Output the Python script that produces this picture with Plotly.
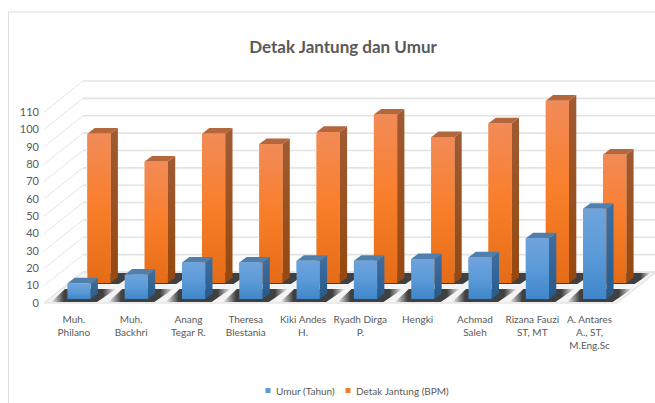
import plotly.graph_objects as go

categories = ["Muh.<br>Philano", "Muh.<br>Backhri", "Anang<br>Tegar R.", "Theresa<br>Blestania",
              "Kiki Andes<br>H.", "Ryadh Dirga<br>P.", "Hengki", "Achmad<br>Saleh",
              "Rizana Fauzi<br>ST, MT", "A. Antares<br>A., ST,<br>M.Eng.Sc"]
umur = [9, 14, 21, 21, 22, 22, 23, 24, 35, 52]
detak = [86, 70, 86, 80, 87, 97, 84, 92, 105, 74]
y_ticks = list(range(0, 111, 10))

W, H = 655, 403
ML, MB = 40, 93
PX = 57.3        # px per category
PY = 1.736       # px per value unit
X0 = 79.0        # px of first category centre
Y0 = 303.0       # px of value 0 on the front plane

xr = [(ML - X0) / PX, (W - X0) / PX]
yr = [(Y0 - (H - MB)) / PY, Y0 / PY]
dxu = lambda px: px / PX
dyu = lambda px: px / PY
xpx = lambda px: (px - ML) / (W - ML)
ypx = lambda py: ((H - MB) - py) / (H - MB)

fig = go.Figure()

GRID = "#e3e3e3"
FLOOR = "#f4f4f4"
wall_dx, wall_dy = dxu(39), dyu(31)
front_l = dxu(44 - X0)
back_r = xr[1] + 0.1
front_r = dxu(617 - X0)
fig.add_trace(go.Scatter(
    x=[front_l, front_l + wall_dx, front_r + wall_dx, front_r, front_l],
    y=[0, wall_dy, wall_dy, 0, 0], mode="lines", fill="toself",
    fillcolor=FLOOR, line=dict(color="#e6e6e6", width=1.5),
    showlegend=False, hoverinfo="skip"))
for v in y_ticks:
    fig.add_trace(go.Scatter(
        x=[front_l, front_l + wall_dx], y=[v, v + wall_dy], mode="lines",
        line=dict(color="#e6e6e6", width=1), showlegend=False, hoverinfo="skip"))
    fig.add_trace(go.Scatter(
        x=[front_l + wall_dx, back_r], y=[v + wall_dy, v + wall_dy], mode="lines",
        line=dict(color=GRID, width=1.6), showlegend=False, hoverinfo="skip"))

width = dxu(23.2)
side_dx, side_dy = dxu(7.3), dyu(5.6)

series = [
    dict(name="Umur (Tahun)", vals=umur, off=0.0, base=dyu(303 - 299), swatch="#5b9bd5",
         front=["#3f86c9", "#5b9bd8", "#6fa3dc"], side=["#275a8c", "#3f6f9f"], top="#4f7fad",
         shadow=((-28, 302), (18, 302), (37, 289), (-14, 289))),
    dict(name="Detak Jantung (BPM)", vals=detak, off=dxu(20), base=dyu(303 - 283), swatch="#ed7d31",
         front=["#e56c17", "#f97e2a", "#f28b58"], side=["#95480f", "#a05b33"], top="#b5673c",
         shadow=((-14, 284), (20, 284), (36, 273), (2, 273))),
]


def face(xs, ys, **kw):
    fig.add_trace(go.Scatter(x=xs, y=ys, mode="lines", fill="toself",
                             line=dict(width=0), showlegend=False, hoverinfo="skip", **kw))


def vert(colors):
    n = len(colors) - 1
    return dict(type="vertical", colorscale=[[i / n, c] for i, c in enumerate(colors)])


SHADOW = dict(type="horizontal", colorscale=[[0, FLOOR], [0.2, "#404040"], [0.8, "#404040"], [1, FLOOR]])

for s in reversed(series):
    fig.add_trace(go.Bar(x=[i + s["off"] for i in range(len(s["vals"]))], y=s["vals"], base=s["base"],
                         width=width, marker=dict(color=s["swatch"], line=dict(width=0)),
                         name=s["name"], showlegend=False, hoverinfo="skip"))

for s in reversed(series):
    for i, v in enumerate(s["vals"]):
        c = i + s["off"]
        l, r = c - width / 2, c + width / 2
        b, t = s["base"], s["base"] + v
        sh = s["shadow"]
        face([c + dxu(p[0]) for p in sh] + [c + dxu(sh[0][0])],
             [dyu(Y0 - p[1]) for p in sh] + [dyu(Y0 - sh[0][1])], fillgradient=SHADOW)
        face([r, r + side_dx, r + side_dx, r, r], [b, b + side_dy, t + side_dy, t, b], fillgradient=vert(s["side"]))
        face([l, r, r + side_dx, l + side_dx, l], [t, t, t + side_dy, t + side_dy, t], fillcolor=s["top"])
        face([l, r, r, l, l], [b, b, t, t, b], fillgradient=vert(s["front"]))

TXT = "#595959"
legend_pos = [(268, 274), (348, 354)]
annotations = []
shapes = [
    dict(type="line", xref="paper", yref="paper", x0=xpx(8.5), x1=xpx(8.5), y0=ypx(12), y1=ypx(403),
         line=dict(color="#dedede", width=1)),
    dict(type="line", xref="paper", yref="paper", x0=xpx(8.5), x1=xpx(655), y0=ypx(12), y1=ypx(12),
         line=dict(color="#dedede", width=1)),
]
for s, (sx, tx) in zip(series, legend_pos):
    shapes.append(dict(type="rect", xref="paper", yref="paper", x0=xpx(sx - 2.5), x1=xpx(sx + 2.5),
                       y0=ypx(388), y1=ypx(393), fillcolor=s["swatch"], line=dict(width=0)))
    annotations.append(dict(text=s["name"], xref="paper", yref="paper", x=xpx(tx), y=ypx(390.5),
                            xanchor="left", yanchor="middle", showarrow=False,
                            font=dict(size=10, color=TXT)))

fig.update_layout(
    width=W, height=H, paper_bgcolor="white", plot_bgcolor="white",
    margin=dict(l=ML, r=0, t=0, b=MB), barmode="overlay", showlegend=False,
    font=dict(family="Lato", color=TXT),
    title=dict(text="Detak Jantung dan Umur", x=343 / W, y=1 - 47.5 / H, xanchor="center", yanchor="middle",
               xref="container", yref="container",
               font=dict(family="Lato", size=17, color=TXT, weight="bold")),
    xaxis=dict(range=xr, tickmode="array", tickvals=[i - 0.09 for i in range(len(categories))],
               ticktext=categories, showgrid=False, zeroline=False, showline=False, ticks="",
               ticklabelstandoff=2,
               tickfont=dict(size=10, color=TXT), tickangle=0, fixedrange=True),
    yaxis=dict(range=yr, tickmode="array", tickvals=y_ticks, showgrid=False, zeroline=False,
               showline=False, ticks="", tickfont=dict(size=11, color=TXT), fixedrange=True),
    shapes=shapes, annotations=annotations,
)
fig.write_html("out.html", config={"displayModeBar": False}, post_script="document.body.style.margin='0';")
